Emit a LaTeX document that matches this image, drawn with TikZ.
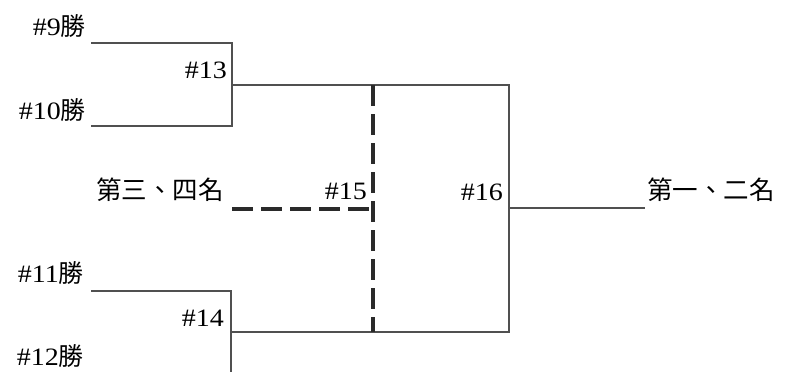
\documentclass[tikz,border=0pt]{standalone}
\usepackage{fontspec}
\setmainfont[FakeStretch=1.12]{Liberation Serif}
\newfontfamily\cjk{Noto Sans CJK TC}

\definecolor{linegray}{HTML}{505050}
\definecolor{dashgray}{HTML}{2A2A2A}

\tikzset{
  bracket/.style={color=linegray, line width=2pt},
  thirdline/.style={color=dashgray, line width=4.5pt, dash pattern=on 21pt off 8pt},
  teamlabel/.style={inner sep=0pt, anchor=east, font=\fontsize{25}{30}\selectfont},
  gamelabel/.style={inner sep=0pt, anchor=east, font=\fontsize{25}{30}\selectfont},
  placelabel/.style={inner sep=0pt, font=\fontsize{25.5}{30}\selectfont\cjk}
}

\begin{document}
\begin{tikzpicture}[x=1pt, y=-1pt]

\useasboundingbox (0,0) rectangle (793,372);

% The bracket corners
\coordinate (c9) at (91,43);
\coordinate (c13a) at (232,43);
\coordinate (c10) at (91,126);
\coordinate (c13b) at (232,126);
\coordinate (c13) at (232,85);
\coordinate (j15a) at (373,85);
\coordinate (c16a) at (509,85);
\coordinate (c11) at (91,291);
\coordinate (c14a) at (231,291);
\coordinate (c14b) at (231,372);
\coordinate (c14) at (231,332);
\coordinate (j15b) at (373,332);
\coordinate (c16b) at (509,332);
\coordinate (c16) at (509,208);
\coordinate (win) at (645,208);
\coordinate (c15) at (232,209);
\coordinate (j15) at (373,209);

% The first round
\draw[bracket] (c9) -- (c13a) -- (c13b) -- (c10);
\draw[bracket] (c11) -- (c14a) -- (c14b);

% The final
\draw[bracket] (c13) -- (c16a) -- (c16b) -- (c14);
\draw[bracket] (c16) -- (win);

% The third place game
\draw[thirdline] (j15a) -- (j15b);
\draw[thirdline] (c15) -- (j15);

% The team labels
\node[teamlabel] (w9) at (86,26) {\#9{\cjk 勝}};
\node[teamlabel] (w10) at (86,110) {\#10{\cjk 勝}};
\node[teamlabel] (w11) at (84,273) {\#11{\cjk 勝}};
\node[teamlabel] (w12) at (84,356) {\#12{\cjk 勝}};

% The game labels
\node[gamelabel] (g13) at (227,70) {\#13};
\node[gamelabel] (g14) at (224,318) {\#14};
\node[gamelabel] (g15) at (367,191) {\#15};
\node[gamelabel] (g16) at (503,192) {\#16};

% The places
\node[placelabel] (third) at (160,190) {第三、四名};
\node[placelabel] (first) at (711,190) {第一、二名};

\end{tikzpicture}
\end{document}
